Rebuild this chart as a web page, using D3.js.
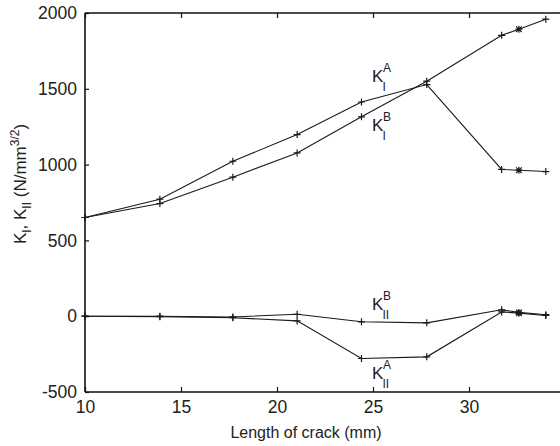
<!DOCTYPE html>
<html>
<head>
<meta charset="utf-8">
<script src="https://cdn.jsdelivr.net/npm/d3@7"></script>
<style>
body { margin: 0; background: #fff; }
svg { display: block; font-family: "Liberation Sans", Arial, sans-serif; }
</style>
</head>
<body>
<div id="container"></div>
<script>
// crack length (mm)
var crackLength = [10, 13.9, 17.7, 21.05, 24.4, 27.8, 31.7, 32.6, 34.0];
var kIA  = [651, 772, 1022, 1198, 1413, 1528, 968, 963, 954];
var kIB  = [651, 743, 917, 1077, 1315, 1550, 1853, 1893, 1959];
var kIIA = [0, -3, -10, -31, -279, -268, 28, 20, 5];
var kIIB = [0, 0, -5, 13, -37, -44, 42, 25, 10];
var xTicks = [10, 15, 20, 25, 30];
var yTicks = [-500, 0, 500, 1000, 1500, 2000];

var width = 560, height = 446;
var plotLeft = 85, plotRight = 565, plotTop = 13, plotBottom = 392;

var svg = d3.select('#container')
    .append('svg')
    .attr('width', width)
    .attr('height', height);

var x = d3.scaleLinear().domain([10, 35]).range([plotLeft, plotRight]);
var y = d3.scaleLinear().domain([-500, 2000]).range([plotBottom, plotTop]);

function plain(d) { return String(d); }

// axes: ticks point inwards
var xAxis = svg.append('g')
    .attr('transform', 'translate(0,' + plotBottom + ')')
    .call(d3.axisBottom(x).tickValues(xTicks).tickFormat(plain).tickSize(-5).tickPadding(9));
var xTop = svg.append('g')
    .attr('transform', 'translate(0,' + plotTop + ')')
    .call(d3.axisTop(x).tickValues(xTicks).tickSize(-5).tickFormat(''));
var yAxis = svg.append('g')
    .attr('transform', 'translate(' + plotLeft + ',0)')
    .call(d3.axisLeft(y).tickValues(yTicks).tickFormat(plain).tickSize(-4).tickPadding(8));

[xAxis, xTop, yAxis].forEach(function(g) {
    g.select('.domain').attr('stroke', '#111').attr('stroke-width', 1.6);
    g.selectAll('.tick line').attr('stroke', '#111').attr('stroke-width', 1.2);
    g.selectAll('.tick text')
        .attr('fill', '#222')
        .style('font-size', '17.5px')
        .style('font-family', '"Liberation Sans", Arial, sans-serif');
});
// top and bottom axis lines run off the picture edge
xAxis.select('.domain').attr('d', 'M' + plotLeft + ',0H' + width);
xTop.select('.domain').attr('d', 'M' + plotLeft + ',0H' + width);
yAxis.select('.domain').attr('d', 'M0,' + plotTop + 'V' + plotBottom);

var line = d3.line()
    .x(function(d) { return x(d[0]); })
    .y(function(d) { return y(d[1]); });

var series = [kIA, kIB, kIIA, kIIB];

series.forEach(function(vals) {
    var pts = crackLength.map(function(c, i) { return [c, vals[i]]; });
    svg.append('path')
        .datum(pts)
        .attr('d', line)
        .attr('fill', 'none')
        .attr('stroke', '#1a1a1a')
        .attr('stroke-width', 1.1);

    // '+' markers, the 32.6 point reads as a star
    pts.forEach(function(p, i) {
        var cx = x(p[0]), cy = y(p[1]), s = 3.5;
        var d = 'M' + (cx - s) + ',' + cy + 'H' + (cx + s) + 'M' + cx + ',' + (cy - s) + 'V' + (cy + s);
        if (i === 7) {
            var t = 2.8;
            d += 'M' + (cx - t) + ',' + (cy - t) + 'L' + (cx + t) + ',' + (cy + t) +
                 'M' + (cx - t) + ',' + (cy + t) + 'L' + (cx + t) + ',' + (cy - t);
        }
        svg.append('path')
            .attr('d', d)
            .attr('stroke', '#1a1a1a')
            .attr('stroke-width', 1.2);
    });
});

// curve labels: K with super- and subscript
function kLabel(cx, cy, sup, sub) {
    var g = svg.append('g').attr('fill', '#222');
    var k = g.append('text')
        .attr('x', x(cx)).attr('y', y(cy))
        .style('font-size', '17px')
        .text('K');
    var w = k.node().getComputedTextLength();
    g.append('text')
        .attr('x', x(cx) + w - 0.5).attr('y', y(cy) - 10)
        .style('font-size', '12px')
        .text(sup);
    g.append('text')
        .attr('x', x(cx) + w - 1).attr('y', y(cy) + 9)
        .style('font-size', '12px')
        .text(sub);
}
kLabel(24.95, 1543, 'A', 'I');
kLabel(24.95, 1220, 'B', 'I');
kLabel(24.95, 40, 'B', 'II');
kLabel(24.95, -416, 'A', 'II');

// x label
svg.append('text')
    .attr('x', 306)
    .attr('y', 438)
    .attr('text-anchor', 'middle')
    .attr('fill', '#222')
    .style('font-size', '16px')
    .text('Length of crack (mm)');

// y label
var yl = svg.append('text')
    .attr('transform', 'translate(26,184) rotate(-90)')
    .attr('text-anchor', 'middle')
    .attr('fill', '#222')
    .style('font-size', '17px');
yl.append('tspan').text('K');
yl.append('tspan').attr('dy', 5).style('font-size', '12px').text('I');
yl.append('tspan').attr('dy', -5).text(', K');
yl.append('tspan').attr('dy', 5).style('font-size', '12px').text('II');
yl.append('tspan').attr('dy', -5).text(' (N/mm');
yl.append('tspan').attr('dy', -7).style('font-size', '12px').text('3/2');
yl.append('tspan').attr('dy', 7).text(')');
</script>
</body>
</html>
